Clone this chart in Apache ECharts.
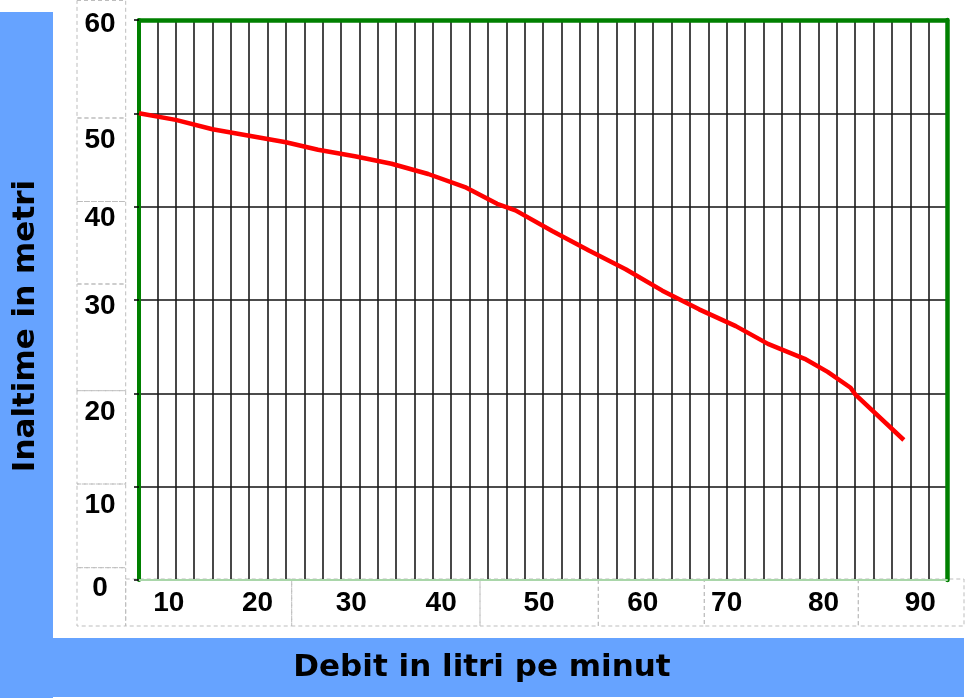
<!DOCTYPE html>
<html>
<head>
<meta charset="utf-8">
<script src="https://cdn.jsdelivr.net/npm/echarts@6/dist/echarts.min.js"></script>
<style>
html,body{margin:0;padding:0;background:#fff;}
#chart{width:965px;height:698px;}
</style>
</head>
<body>
<div id="chart"></div>
<script>
// ---- data ----
const flow = [6, 10, 14, 18, 22, 25.5, 29.5, 33.5, 37.5, 41.5, 45, 47, 51, 55, 59, 63, 65, 67, 71, 74.5, 78.5, 81, 83.5, 84, 89.3];
const head = [50, 49.3, 48.3, 47.6, 46.9, 46.1, 45.4, 44.6, 43.5, 42.1, 40.3, 39.6, 37.4, 35.3, 33.3, 31.0, 30.0, 29.0, 27.2, 25.3, 23.7, 22.3, 20.6, 19.9, 15.0];
const xTickLabels = [10, 20, 30, 40, 50, 60, 70, 80, 90];
const yTickLabels = [0, 10, 20, 30, 40, 50, 60];
const xTitle = 'Debit in litri pe minut';
const yTitle = 'Inaltime in metri';

// ---- label placement styles (the reference's labels sit in loose text boxes) ----
const yLabelShift = {60: 4, 50: 27, 40: 12, 30: 6, 20: 19, 10: 19, 0: 8};
const xLabelShift = {10: -7, 20: -10, 30: -8, 40: -10, 50: -4, 60: 8, 70: 0, 80: 5, 90: 10};

const labelFont = {fontFamily: 'Liberation Sans, Arial, sans-serif', fontWeight: 'bold', fontSize: 28, color: '#000'};
const yRich = {}, xRich = {};
yTickLabels.forEach(v => {
  const d = yLabelShift[v] || 0;
  yRich['y' + v] = Object.assign({}, labelFont, {padding: d >= 0 ? [2 * d, 0, 0, 0] : [0, 0, -2 * d, 0]});
});
xTickLabels.forEach(v => {
  const d = xLabelShift[v] || 0;
  xRich['x' + v] = Object.assign({}, labelFont, {padding: d >= 0 ? [0, 0, 0, 2 * d] : [0, -2 * d, 0, 0]});
});

const blue = '#66A3FF';
const dash = {fill: 'none', stroke: '#bdbdbd', lineWidth: 1, lineDash: [4, 3]};
function box(x, y, w, h) { return {type: 'rect', z: -5, shape: {x: x, y: y, width: w, height: h}, style: dash, silent: true}; }

const yBoxEdges = [0.5, 118, 201.5, 284, 390.7, 484, 567.7, 626];
const xBoxEdges = [125.7, 291.7, 480, 598.3, 704.3, 858.3, 964];
const graphics = [
  {type: 'rect', z: -10, shape: {x: 0, y: 12, width: 53, height: 686}, style: {fill: blue}, silent: true},
  {type: 'rect', z: -10, shape: {x: 0, y: 638, width: 964, height: 59}, style: {fill: blue}, silent: true}
];
for (let i = 0; i < yBoxEdges.length - 1; i++) graphics.push(box(77, yBoxEdges[i], 48.7, yBoxEdges[i + 1] - yBoxEdges[i]));
for (let i = 0; i < xBoxEdges.length - 1; i++) graphics.push(box(xBoxEdges[i], 579, xBoxEdges[i + 1] - xBoxEdges[i], 47));
graphics.push({
  type: 'text', z: 10, x: 482, y: 668,
  style: {text: xTitle, fontFamily: 'DejaVu Sans', fontWeight: 'bold', fontSize: 31, fill: '#000', align: 'center', verticalAlign: 'middle'}
});
graphics.push({
  type: 'text', z: 10, x: 26, y: 326, rotation: Math.PI / 2,
  style: {text: yTitle, fontFamily: 'DejaVu Sans', fontWeight: 'bold', fontSize: 31, fill: '#000', align: 'center', verticalAlign: 'middle'}
});

const chart = echarts.init(document.getElementById('chart'), null, {renderer: 'canvas'});
chart.setOption({
  backgroundColor: '#fff',
  animation: false,
  graphic: graphics,
  grid: {left: 139, right: 18, top: 20, bottom: 118, containLabel: false},
  xAxis: [{
    type: 'value', position: 'bottom', min: 6, max: 94, interval: 2,
    axisLine: {show: true, onZero: false, lineStyle: {color: '#a9d6a9', width: 2}},
    axisTick: {show: false},
    splitLine: {show: true, lineStyle: {color: '#1a1a1a', width: 1.6}},
    axisLabel: {
      interval: 0, margin: 9, rich: xRich,
      formatter: v => xTickLabels.indexOf(v) >= 0 ? '{x' + v + '|' + v + '}' : ''
    }
  }, {
    type: 'value', position: 'top', min: 6, max: 94, interval: 2,
    axisLine: {show: true, onZero: false, lineStyle: {color: '#008000', width: 4.5}},
    axisTick: {show: false}, axisLabel: {show: false}, splitLine: {show: false}
  }],
  yAxis: [{
    type: 'value', position: 'left', min: 0, max: 60, interval: 10,
    axisLine: {show: true, onZero: false, lineStyle: {color: '#008000', width: 4}},
    axisTick: {show: true, length: 5, lineStyle: {color: '#000', width: 1.5}},
    splitLine: {show: true, lineStyle: {color: '#111', width: 1.6}},
    axisLabel: {
      align: 'center', margin: 39, rich: yRich,
      formatter: v => '{y' + v + '|' + v + '}'
    }
  }, {
    type: 'value', position: 'right', min: 0, max: 60, interval: 10,
    axisLine: {show: true, onZero: false, lineStyle: {color: '#008000', width: 4.5}},
    axisTick: {show: false}, axisLabel: {show: false}, splitLine: {show: false}
  }],
  series: [{
    type: 'line',
    data: flow.map((x, i) => [x, head[i]]),
    showSymbol: false,
    smooth: false,
    z: 5,
    lineStyle: {color: '#ff0000', width: 4.5},
    clip: false
  }]
});
</script>
</body>
</html>
